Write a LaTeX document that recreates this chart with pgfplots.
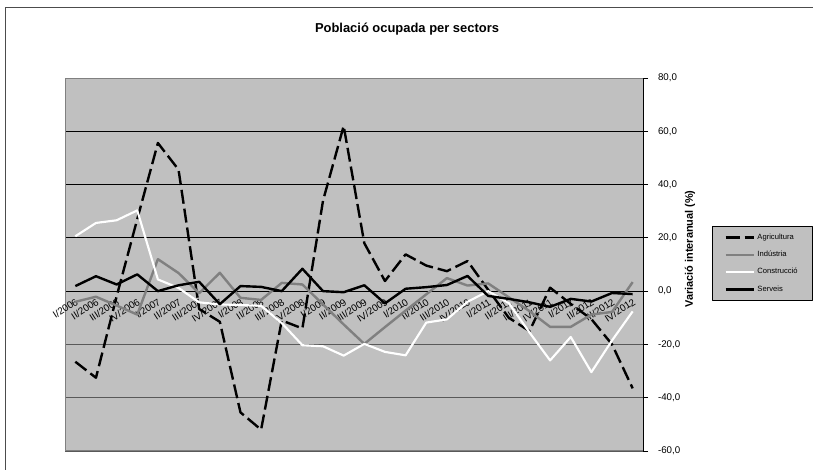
\documentclass[border=0pt]{standalone}
\usepackage{pgfplots}
\pgfplotsset{compat=1.18}
\usepackage{pgfplotstable}
\usepackage{fontspec}
\setmainfont{Liberation Sans}
\definecolor{plotbg}{HTML}{C0C0C0}
\definecolor{indgray}{HTML}{808080}
\definecolor{bordgray}{HTML}{808080}

\pgfplotstableread{
i agr ind con ser
0 -26.5 -4.0 20.6 1.9
1 -32.5 -2.1 25.6 5.6
2 -2.0 -5.4 26.6 2.5
3 27.0 -8.8 30.3 6.3
4 55.6 12.0 4.4 0.0
5 45.6 6.8 1.2 2.2
6 -6.7 -0.8 -4.2 3.5
7 -11.5 6.9 -5.0 -4.9
8 -45.5 -2.5 -5.2 1.9
9 -52.0 -3.3 -5.5 1.6
10 -11.0 3.1 -12.0 0.0
11 -14.0 2.5 -20.3 8.4
12 34.0 -5.0 -20.7 0.0
13 62.0 -12.5 -24.2 -0.4
14 18.0 -19.8 -19.8 2.2
15 3.8 -13.5 -22.8 -4.6
16 13.8 -7.3 -24.1 0.9
17 9.6 -1.2 -11.8 1.5
18 7.5 4.9 -10.6 2.3
19 11.3 2.1 -4.0 5.7
20 0.5 2.9 0.0 -1.8
21 -10.0 -2.3 -4.5 -2.9
22 -15.0 -7.5 -15.5 -4.2
23 1.3 -13.4 -26.0 -5.9
24 -4.8 -13.4 -17.2 -2.9
25 -10.5 -8.8 -30.4 -3.9
26 -20.0 -7.8 -18.5 -0.7
27 -36.5 3.4 -7.6 -1.1
}\datatable

\newcommand{\xl}[2]{\node[rotate=33, anchor=north east, inner sep=1pt, font=\fontsize{7.4}{8}\selectfont] at ([yshift=-3.5pt]axis cs:#1,0) {#2};}

\begin{document}
\begin{tikzpicture}
\path[use as bounding box] (0,0) rectangle (609.75pt,352.5pt);
\draw[black!70, line width=0.75pt] (3.75pt,0pt) -- (3.75pt,346.5pt) -- (609.75pt,346.5pt);
\node[font=\bfseries\fontsize{9.7}{11}\selectfont] at (305.25pt,330.75pt) {Població ocupada per sectors};
\begin{axis}[
  at={(48.75pt,14.25pt)}, anchor=south west,
  scale only axis, width=433.5pt, height=279.75pt,
  xmin=-0.5, xmax=27.5, ymin=-60, ymax=80,
  clip mode=individual,
  axis background/.style={fill=plotbg},
  axis x line=middle, axis y line=right,
  x axis line style={-, black, line width=0.6pt},
  y axis line style={-, black, line width=0.6pt},
  hide obscured x ticks=false,
  xtick=\empty,
  minor xtick={-0.5,0.5,...,27.5},
  minor x tick style={black, line width=0.5pt},
  minor tick length=3pt,
  major tick length=3.75pt,
  tick align=outside,
  ytick={0,20,40,60,80},
  extra y ticks={-60,-40,-20},
  ymajorgrids=true,
  major grid style={black, line width=0.6pt},
  extra y tick style={major grid style={black!65, line width=0.6pt}},
  y tick style={black, line width=0.6pt},
  yticklabel style={xshift=4pt, font=\fontsize{7.3}{8}\selectfont, /pgf/number format/.cd, fixed, fixed zerofill, precision=1, use comma, assume math mode=true},
  /pgf/number format/assume math mode=true,
  legend style={at={(1.1194,0.6032)}, anchor=north west, fill=plotbg, draw=black, line width=0.6pt,
    font=\fontsize{5.7}{6.5}\selectfont, row sep=3.3pt, inner xsep=9pt, inner ysep=3.5pt},
  legend cell align=left,
  legend image code/.code={\draw[#1] (0pt,0pt) -- (21pt,0pt);},
  line join=round,
]
\draw[bordgray, line width=0.75pt] (rel axis cs:1,1) -- (rel axis cs:0,1) -- (rel axis cs:0,0) -- (rel axis cs:1,0);
\xl{0}{I/2006}\xl{1}{II/2006}\xl{2}{III/2006}\xl{3}{IV/2006}
\xl{4}{I/2007}\xl{5}{II/2007}\xl{6}{III/2007}\xl{7}{IV/2007}
\xl{8}{I/2008}\xl{9}{II/2008}\xl{10}{III/2008}\xl{11}{IV/2008}
\xl{12}{I/2009}\xl{13}{II/2009}\xl{14}{III/2009}\xl{15}{IV/2009}
\xl{16}{I/2010}\xl{17}{II/2010}\xl{18}{III/2010}\xl{19}{IV/2010}
\xl{20}{I/2011}\xl{21}{II/2011}\xl{22}{III/2011}\xl{23}{IV/2011}
\xl{24}{I/2012}\xl{25}{II/2012}\xl{26}{III/2012}\xl{27}{IV/2012}
\addplot[black, line width=1.8pt, dash pattern=on 10.5pt off 3.75pt] table[x=i,y=agr]{\datatable};
\addlegendentry{Agricultura}
\addplot[indgray, line width=1.8pt] table[x=i,y=ind]{\datatable};
\addlegendentry{Indústria}
\addplot[white, line width=1.6pt] table[x=i,y=con]{\datatable};
\addlegendentry{Construcció}
\addplot[black, line width=1.8pt] table[x=i,y=ser]{\datatable};
\addlegendentry{Serveis}
\end{axis}
\node[rotate=90, font=\bfseries\fontsize{8.2}{10}\selectfont] at (517.5pt,165.75pt) {Variació interanual (\%)};
\end{tikzpicture}
\end{document}
